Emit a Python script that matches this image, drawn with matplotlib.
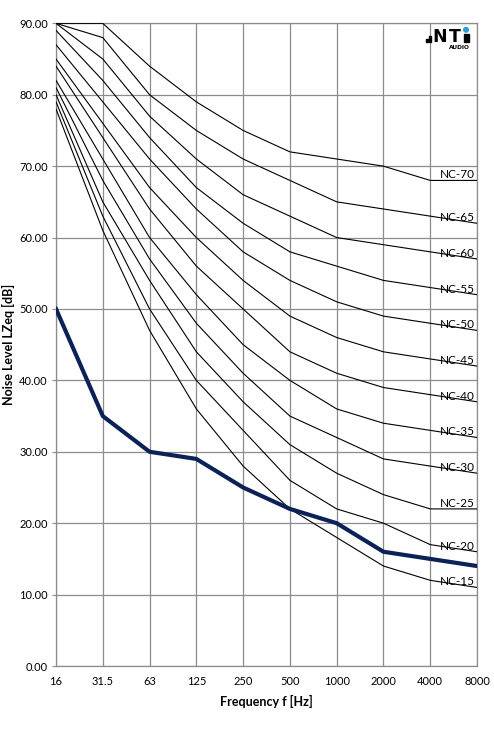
import numpy as np
import matplotlib
matplotlib.use('Agg')
import matplotlib.pyplot as plt
from matplotlib.patches import Rectangle, Ellipse

plt.rcParams['font.family'] = ['Lato', 'DejaVu Sans']

freqs = ['16', '31.5', '63', '125', '250', '500', '1000', '2000', '4000', '8000']

nc_names = ['NC-70', 'NC-65', 'NC-60', 'NC-55', 'NC-50', 'NC-45',
            'NC-40', 'NC-35', 'NC-30', 'NC-25', 'NC-20', 'NC-15']
nc70 = [90, 90, 84, 79, 75, 72, 71, 70, 68, 68]
nc65 = [90, 88, 80, 75, 71, 68, 65, 64, 63, 62]
nc60 = [90, 85, 77, 71, 66, 63, 60, 59, 58, 57]
nc55 = [89, 82, 74, 67, 62, 58, 56, 54, 53, 52]
nc50 = [87, 79, 71, 64, 58, 54, 51, 49, 48, 47]
nc45 = [85, 76, 67, 60, 54, 49, 46, 44, 43, 42]
nc40 = [84, 74, 64, 56, 50, 44, 41, 39, 38, 37]
nc35 = [82, 71, 60, 52, 45, 40, 36, 34, 33, 32]
nc30 = [81, 68, 57, 48, 41, 35, 32, 29, 28, 27]
nc25 = [80, 65, 54, 44, 37, 31, 27, 24, 22, 22]
nc20 = [79, 63, 50, 40, 33, 26, 22, 20, 17, 16]
nc15 = [78, 61, 47, 36, 28, 22, 18, 14, 12, 11]
nc_curves = [nc70, nc65, nc60, nc55, nc50, nc45, nc40, nc35, nc30, nc25, nc20, nc15]

measured = [50, 35, 30, 29, 25, 22, 20, 16, 15, 14]

grid_col = '#8c8c8c'

fig = plt.figure(figsize=(4.94, 7.36), dpi=100)
ax = fig.add_axes([0.1134, 0.0951, 0.8522, 0.8732])

x = np.arange(len(freqs))
for name, vals in zip(nc_names, nc_curves):
    ax.plot(x, vals, color='black', lw=0.8, zorder=3)
    ax.text(x[-1] - 0.05, vals[-1] + 0.3, name, ha='right', va='baseline',
            fontsize=8.5, color='black', zorder=4)

ax.plot(x, measured, color='#0b2257', lw=3.0, zorder=5,
        solid_joinstyle='round')

ax.set_xlim(0, len(freqs) - 1)
ax.set_ylim(0, 90)
ax.set_xticks(x)
ax.set_xticklabels(freqs)
ax.set_yticks(np.arange(0, 91, 10))
ax.set_yticklabels(['%.2f' % v for v in np.arange(0, 91, 10)])
ax.grid(True, color=grid_col, lw=0.9)
ax.set_axisbelow(True)
for s in ax.spines.values():
    s.set_color(grid_col)
    s.set_linewidth(0.9)
ax.tick_params(axis='x', length=0, pad=7, labelsize=8)
ax.tick_params(axis='y', length=3, color=grid_col, pad=3, labelsize=8)

ax.set_xlabel('Frequency f [Hz]', fontsize=9, fontweight='bold', labelpad=6)
ax.set_ylabel('Noise Level LZeq [dB]', fontsize=9, fontweight='bold', labelpad=3)

# NTi Audio logo
W, H = 494.0, 736.0
def box(x0, y0, w, h, c='black'):
    fig.patches.append(Rectangle((x0 / W, 1 - (y0 + h) / H), w / W, h / H,
                                 transform=fig.transFigure, color=c))
box(426.0, 38.8, 2.4, 3.5)
box(429.0, 36.0, 2.4, 6.3)
fig.text(432.5 / W, 1 - 42.3 / H, 'N', fontsize=12.5, fontweight='heavy',
         ha='left', va='baseline', family=['DejaVu Sans'])
fig.text(448.5 / W, 1 - 42.3 / H, 'T', fontsize=12.5, fontweight='heavy',
         ha='left', va='baseline', family=['DejaVu Sans'])
box(463.5, 33.8, 5.0, 8.5)
fig.patches.append(Ellipse((466.0 / W, 1 - 29.8 / H), 4.6 / W, 4.6 / H,
                           transform=fig.transFigure, color='#2a9fd6'))
fig.text(470 / W, 1 - 49.0 / H, 'AUDIO', fontsize=4.2, fontweight='bold',
         ha='right', va='baseline', family=['DejaVu Sans'])

fig.savefig('out.png', dpi=100)
